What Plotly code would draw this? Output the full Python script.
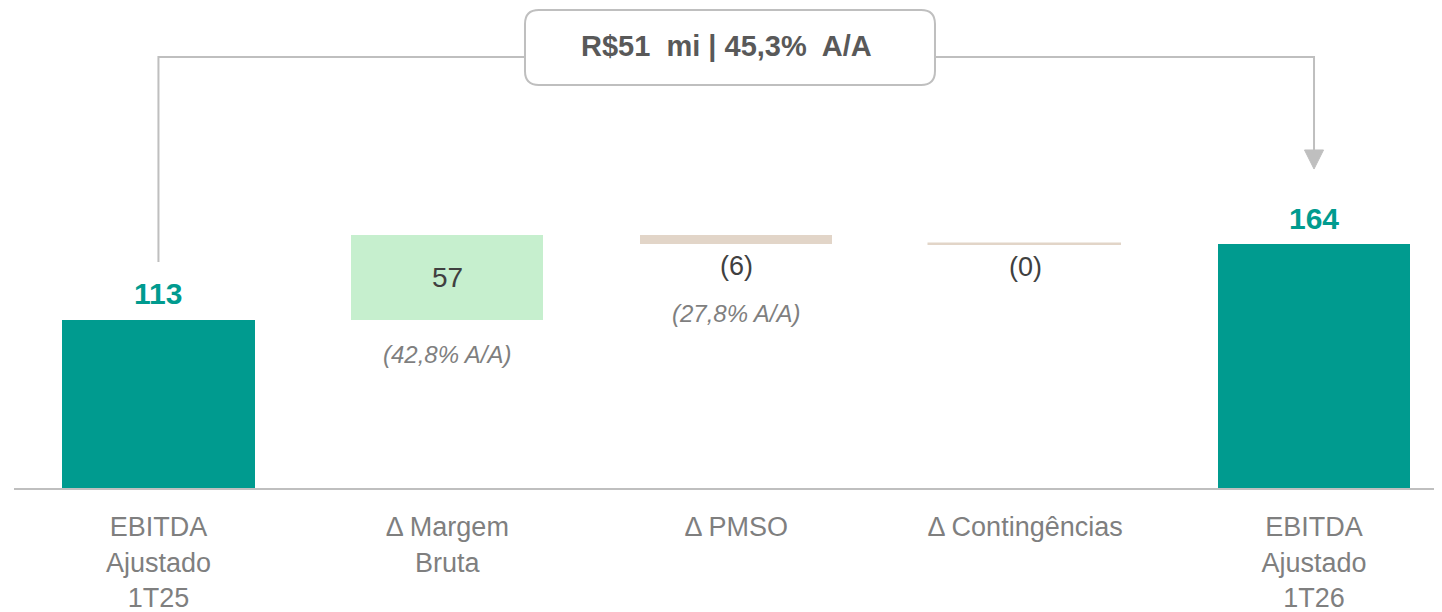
import plotly.graph_objects as go

# ---- data ----
categories = ["EBITDA<br>Ajustado<br>1T25", "Δ Margem<br>Bruta", "Δ PMSO",
              "Δ Contingências", "EBITDA<br>Ajustado<br>1T26"]
start_value = 113
deltas = [57, -6, -0.4]
end_value = 164
value_labels = ["113", "57", "(6)", "(0)", "164"]
yoy_labels = ["", "(42,8% A/A)", "(27,8% A/A)", "", ""]
headline = "R$51\u00a0 mi | 45,3%\u00a0 A/A"

TEAL = "#009B8F"
GREEN = "#C6EFCE"
BEIGE = "#E2D5C8"
GREY_LINE = "#BFBFBF"
FONT = "Liberation Sans, Arial, sans-serif"

# ---- build bars from values ----
heights = [start_value]
bases = [0]
running = start_value
for d in deltas:
    heights.append(d)
    bases.append(running)
    running += d
heights.append(end_value)
bases.append(0)
colors = [TEAL] + [GREEN if d >= 0 else BEIGE for d in deltas] + [TEAL]
xs = list(range(len(categories)))

fig = go.Figure()
fig.add_trace(go.Bar(
    x=xs, y=heights, base=bases, width=0.665,
    marker=dict(color=colors, line=dict(color=colors, width=[0, 0, 0, 1.5, 0])),
    hoverinfo="skip", showlegend=False,
))

annotations = []
for i, (h, b) in enumerate(zip(heights, bases)):
    top = b + max(h, 0)
    bottom = b + min(h, 0)
    if i == 0 or i == len(categories) - 1:
        annotations.append(dict(x=i, y=top, text=f"<b>{value_labels[i]}</b>", showarrow=False,
                                yanchor="middle", yshift=26,
                                font=dict(family=FONT, size=30, color=TEAL)))
    elif h >= 0:
        annotations.append(dict(x=i, y=(top + bottom) / 2, text=value_labels[i], showarrow=False,
                                yanchor="middle", font=dict(family=FONT, size=28, color="#404040")))
        if yoy_labels[i]:
            annotations.append(dict(x=i, y=bottom, text=f"<i>{yoy_labels[i]}</i>", showarrow=False,
                                    yanchor="middle", yshift=-35,
                                    font=dict(family=FONT, size=24, color="#7F7F7F")))
    else:
        annotations.append(dict(x=i, y=bottom, text=value_labels[i], showarrow=False,
                                yanchor="middle", yshift=-22,
                                font=dict(family=FONT, size=27, color="#404040")))
        if yoy_labels[i]:
            annotations.append(dict(x=i, y=bottom, text=f"<i>{yoy_labels[i]}</i>", showarrow=False,
                                    yanchor="middle", yshift=-69,
                                    font=dict(family=FONT, size=24, color="#7F7F7F")))

# headline box & connector (positions in axis units)
bx0, bx1 = 1.2688, 2.688
by0, by1 = 270.9, 321.3
ly = 289.7
rx, ry = 0.048, 9.4
box_path = (f"M {bx0+rx},{by0} L {bx1-rx},{by0} Q {bx1},{by0} {bx1},{by0+ry} "
            f"L {bx1},{by1-ry} Q {bx1},{by1} {bx1-rx},{by1} L {bx0+rx},{by1} "
            f"Q {bx0},{by1} {bx0},{by1-ry} L {bx0},{by0+ry} Q {bx0},{by0} {bx0+rx},{by0} Z")
last = len(categories) - 1
arrow_base, arrow_tip, aw = 227.2, 214.4, 0.033
shapes = [
    dict(type="path", path=f"M 0,151.9 L 0,{ly} L {bx0},{ly}",
         line=dict(color=GREY_LINE, width=2), xref="x", yref="y"),
    dict(type="path", path=f"M {bx1},{ly} L {last},{ly} L {last},{arrow_base}",
         line=dict(color=GREY_LINE, width=2), xref="x", yref="y"),
    dict(type="path", path=f"M {last-aw},{arrow_base} L {last+aw},{arrow_base} L {last},{arrow_tip} Z",
         line=dict(color=GREY_LINE, width=1), fillcolor=GREY_LINE, xref="x", yref="y"),
    dict(type="path", path=box_path, line=dict(color=GREY_LINE, width=2),
         fillcolor="white", xref="x", yref="y"),
]
annotations.append(dict(x=(bx0 + bx1) / 2 - 0.013, y=(by0 + by1) / 2 + 1, text=f"<b>{headline}</b>",
                        showarrow=False, yanchor="middle",
                        font=dict(family=FONT, size=29, color="#595959")))

fig.update_layout(
    width=1434, height=604,
    margin=dict(l=6, r=0, t=0, b=124, autoexpand=False),
    paper_bgcolor="white", plot_bgcolor="white",
    xaxis=dict(range=[-0.5, 4.443], tickvals=xs, ticktext=categories,
               showline=True, linecolor=GREY_LINE, linewidth=2, ticks="",
               ticklabelstandoff=14, automargin=False,
               showgrid=False, zeroline=False,
               tickfont=dict(family=FONT, size=27, color="#7F7F7F")),
    yaxis=dict(range=[0, 480 / 1.4878], visible=False, showgrid=False, zeroline=False,
               automargin=False),
    shapes=shapes, annotations=annotations,
    bargap=0,
)

fig.write_html("out.html")
